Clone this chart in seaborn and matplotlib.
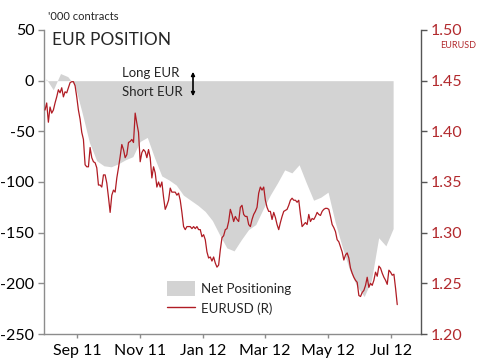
import numpy as np
import pandas as pd
import matplotlib
matplotlib.use("Agg")
import matplotlib.pyplot as plt
import matplotlib.dates as mdates
from matplotlib.patches import Patch
from matplotlib.lines import Line2D
import seaborn as sns

# ---------------- data ----------------
pos_start = "2011-08-02"   # weekly CFTC net positioning, '000 contracts
net_positioning = [2, -9, 7, 4, -5, -32, -61, -79, -84, -85, -82, -78, -75, -60, -56,
                   -76, -94, -98, -103, -113, -118, -123, -129, -138, -152, -165, -168,
                   -157, -147, -142, -127, -113, -101, -88, -91, -83, -101, -118, -115,
                   -110, -140, -165, -187, -203, -213, -197, -155, -163, -146]

fx_start, fx_end = "2011-08-01", "2012-07-07"
eurusd = [1.421, 1.428, 1.409, 1.424, 1.418, 1.421, 1.428, 1.434, 1.441, 1.438, 1.443, 1.434,
          1.439, 1.438, 1.443, 1.448, 1.449, 1.449, 1.445, 1.434, 1.421, 1.412, 1.399, 1.392,
          1.367, 1.365, 1.365, 1.384, 1.374, 1.370, 1.369, 1.364, 1.347, 1.347, 1.345, 1.357,
          1.357, 1.349, 1.335, 1.320, 1.337, 1.342, 1.340, 1.354, 1.364, 1.375, 1.387, 1.382,
          1.374, 1.377, 1.389, 1.390, 1.392, 1.389, 1.418, 1.408, 1.399, 1.370, 1.379, 1.382,
          1.380, 1.374, 1.382, 1.374, 1.354, 1.365, 1.359, 1.345, 1.350, 1.345, 1.350, 1.335,
          1.323, 1.327, 1.332, 1.344, 1.340, 1.340, 1.340, 1.337, 1.339, 1.332, 1.320, 1.306,
          1.303, 1.306, 1.306, 1.306, 1.304, 1.306, 1.304, 1.306, 1.303, 1.303, 1.296, 1.298,
          1.293, 1.281, 1.275, 1.276, 1.272, 1.276, 1.270, 1.266, 1.268, 1.283, 1.295, 1.297,
          1.303, 1.304, 1.311, 1.323, 1.318, 1.311, 1.316, 1.313, 1.311, 1.325, 1.327, 1.318,
          1.316, 1.316, 1.308, 1.306, 1.313, 1.318, 1.321, 1.325, 1.339, 1.345, 1.342, 1.345,
          1.332, 1.325, 1.321, 1.321, 1.313, 1.320, 1.315, 1.308, 1.303, 1.310, 1.316, 1.321,
          1.322, 1.323, 1.327, 1.332, 1.334, 1.332, 1.332, 1.330, 1.332, 1.318, 1.306, 1.308,
          1.310, 1.308, 1.318, 1.311, 1.314, 1.313, 1.316, 1.320, 1.318, 1.317, 1.321, 1.323,
          1.324, 1.324, 1.323, 1.316, 1.308, 1.305, 1.301, 1.293, 1.291, 1.286, 1.281, 1.273,
          1.278, 1.280, 1.275, 1.265, 1.260, 1.256, 1.253, 1.251, 1.238, 1.237, 1.241, 1.243,
          1.248, 1.256, 1.246, 1.250, 1.248, 1.253, 1.261, 1.257, 1.267, 1.265, 1.260, 1.256,
          1.253, 1.249, 1.263, 1.261, 1.258, 1.259, 1.245, 1.229]

x_ticks = ["2011-09-01", "2011-11-01", "2012-01-01", "2012-03-01", "2012-05-01", "2012-07-01"]
x_labels = ["Sep 11", "Nov 11", "Jan 12", "Mar 12", "May 12", "Jul 12"]
left_ticks = [50, 0, -50, -100, -150, -200, -250]
right_ticks = [1.50, 1.45, 1.40, 1.35, 1.30, 1.25, 1.20]

pos_df = pd.DataFrame({"date": pd.date_range(pos_start, periods=len(net_positioning), freq="7D"),
                       "net": net_positioning})
fx_df = pd.DataFrame({"date": pd.date_range(fx_start, fx_end, periods=len(eurusd)),
                      "eurusd": eurusd})

# ---------------- style ----------------
sns.set_theme(style="white")
plt.rcParams["font.family"] = ["Lato", "DejaVu Sans"]
plt.rcParams["axes.unicode_minus"] = False

RED = "#b22a2e"
LINE = "#b01c24"
GREY = "#d3d3d3"
SPINE = "#8c8c8c"

fig = plt.figure(figsize=(4.79, 3.62), dpi=100)
ax = fig.add_axes([44 / 479, 1 - 334 / 362, (421 - 44) / 479, (334 - 30) / 362])
ax2 = ax.twinx()

ax.fill_between(pos_df["date"], 0, pos_df["net"], color=GREY, linewidth=0)
sns.lineplot(data=fx_df, x="date", y="eurusd", ax=ax2, color=LINE, linewidth=0.9)

ax.set_xlim(pd.Timestamp("2011-07-31"), pd.Timestamp("2012-07-30"))
ax.set_ylim(-250, 50)
ax2.set_ylim(1.20, 1.50)

ax.set_xticks(pd.to_datetime(x_ticks))
ax.set_xticklabels(x_labels)
ax.set_yticks(left_ticks)
ax.set_yticklabels([str(v) for v in left_ticks])
ax2.set_yticks(right_ticks)
ax2.set_yticklabels([f"{v:.2f}" for v in right_ticks])
ax.set_xlabel("")
ax.set_ylabel("")
ax2.set_xlabel("")
ax2.set_ylabel("")

for a in (ax, ax2):
    for s in a.spines.values():
        s.set_visible(False)
ax.spines["left"].set_visible(True)
ax.spines["bottom"].set_visible(True)
ax2.spines["right"].set_visible(True)
ax.spines["left"].set_color(SPINE)
ax.spines["bottom"].set_color(SPINE)
ax2.spines["right"].set_color("#555555")
for s in (ax.spines["left"], ax.spines["bottom"], ax2.spines["right"]):
    s.set_linewidth(1.0)

ax.tick_params(axis="y", direction="out", length=4, width=1, color=SPINE, pad=3,
               labelsize=11.5, labelcolor="black", left=True)
ax.tick_params(axis="x", direction="out", length=3, width=1, color=SPINE, pad=4,
               labelsize=11.5, labelcolor="black", bottom=True)
ax2.tick_params(axis="y", direction="out", length=4, width=1, color="#555555", pad=3,
                labelsize=11.5, labelcolor=RED, right=True)

# texts
fig.text(48 / 479, 1 - 17 / 362, "'000 contracts", fontsize=8, va="center", ha="left")
fig.text(52 / 479, 1 - 40 / 362, "EUR POSITION", fontsize=12.5, va="center", ha="left")
fig.text(440 / 479, 1 - 46 / 362, "EURUSD", fontsize=6.5, color=RED, va="center", ha="left")
fig.text(122 / 479, 1 - 73 / 362, "Long EUR", fontsize=9.5, va="center", ha="left")
fig.text(122 / 479, 1 - 92 / 362, "Short EUR", fontsize=9.5, va="center", ha="left")
fig.add_artist(matplotlib.patches.FancyArrowPatch(
    (193 / 479, 1 - 69 / 362), (193 / 479, 1 - 99 / 362), transform=fig.transFigure,
    arrowstyle="<|-|>", mutation_scale=5, color="black", linewidth=1.2))

handles = [Patch(facecolor=GREY, edgecolor="none", label="Net Positioning"),
           Line2D([0], [0], color=LINE, linewidth=1.0, label="EURUSD (R)")]
fig.legend(handles=handles, loc="upper left", bbox_to_anchor=(162 / 479, 1 - 276 / 362),
           frameon=False, fontsize=9.5, handlelength=2.1, handleheight=1.3,
           labelspacing=0.45, handletextpad=0.45, borderaxespad=0)

fig.savefig("out.png", dpi=100)
